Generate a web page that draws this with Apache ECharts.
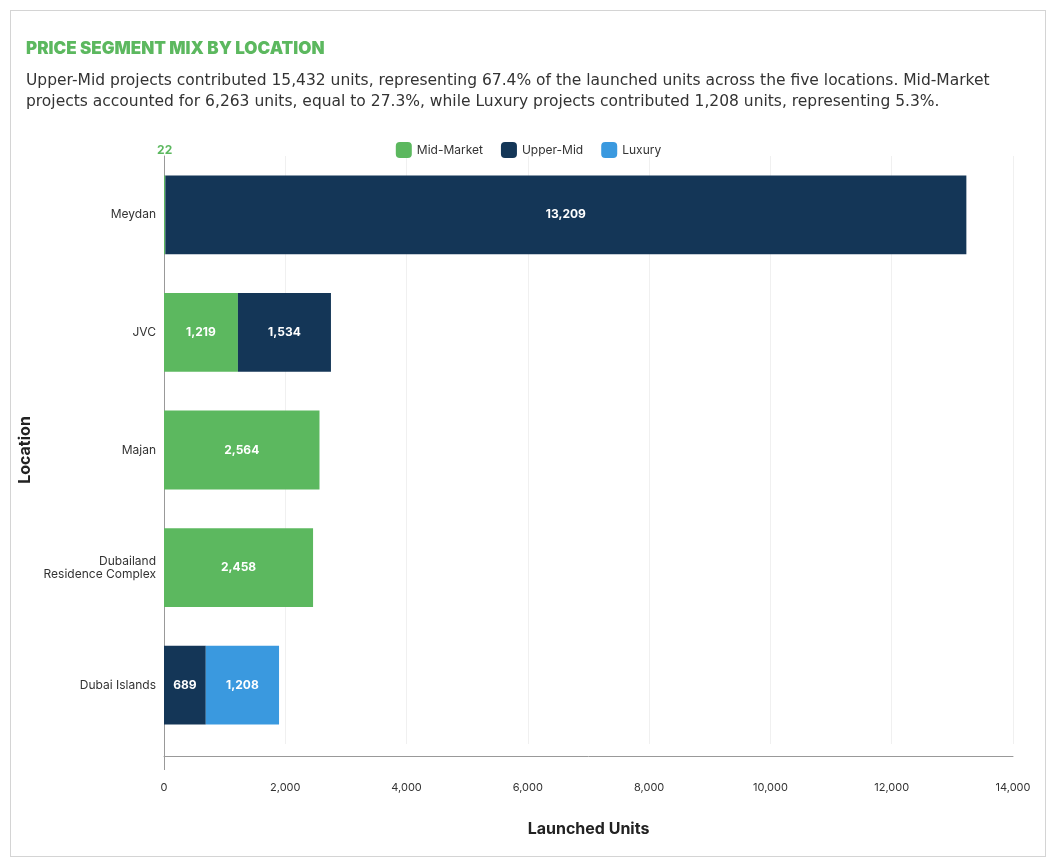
<!DOCTYPE html>
<html><head><meta charset="utf-8">
<script src="https://cdn.jsdelivr.net/npm/echarts@6/dist/echarts.min.js"></script>
<style>
html,body{margin:0;padding:0;background:#fff;font-family:Inter,sans-serif}
#box{position:absolute;left:10px;top:10px;width:1036px;height:847px;border:1px solid #d4d4d4;box-sizing:border-box}
#main{position:absolute;left:0;top:0;width:1057px;height:863px}
</style></head>
<body><div id="box"></div><div id="main"></div>
<script>
var locations = ['Meydan', 'JVC', 'Majan', 'Dubailand\nResidence Complex', 'Dubai Islands'];
var midMarket = [22, 1219, 2564, 2458, 0];
var upperMid = [13209, 1534, 0, 0, 689];
var luxury = [0, 0, 0, 0, 1208];

var myChart = echarts.init(document.getElementById('main'));

function lbl(p) { return p.value > 0 ? p.value.toLocaleString('en-US') : ''; }

function makeData(arr, isMid) {
    return arr.map(function (v, i) {
        if (isMid && v > 0 && v < 200) {
            return {value: v, label: {position: 'top', offset: [0, -14], color: '#5cb85f', fontSize: 12, fontWeight: 'bold'}};
        }
        return v;
    });
}

var insideLabel = {show: true, position: 'inside', color: '#fff', fontWeight: 'bold', fontSize: 12, formatter: lbl};

var option = {
    textStyle: {fontFamily: 'Inter'},
    title: [{
        text: 'PRICE SEGMENT MIX BY LOCATION', left: 21, top: 35,
        textStyle: {color: '#5cb85f', fontSize: 17, fontWeight: 900}
    }, {
        text: 'Upper-Mid projects contributed 15,432 units, representing 67.4% of the launched units across the five locations. Mid-Market\nprojects accounted for 6,263 units, equal to 27.3%, while Luxury projects contributed 1,208 units, representing 5.3%.',
        left: 21, top: 65,
        textStyle: {color: '#333', fontSize: 15.5, fontFamily: 'DejaVu Sans', fontWeight: 'normal', lineHeight: 21}
    }],
    legend: {
        top: 137, left: 'center', itemWidth: 16, itemHeight: 16, itemGap: 18,
        textStyle: {fontSize: 12, color: '#333'},
        data: ['Mid-Market', 'Upper-Mid', 'Luxury']
    },
    graphic: [{
        type: 'line', shape: {x1: 164.5, y1: 744, x2: 164.5, y2: 770},
        style: {stroke: '#999', lineWidth: 1}
    }],
    grid: {left: 164, right: 44, top: 156, bottom: 119, outerBoundsMode: 'none', containLabel: false},
    xAxis: {
        type: 'value', min: 0, max: 14000, interval: 2000, offset: 12,
        name: 'Launched Units', nameLocation: 'middle', nameGap: 65,
        nameTextStyle: {fontSize: 16, fontWeight: 'bold', color: '#222'},
        axisLine: {show: true, lineStyle: {color: '#999'}},
        axisTick: {show: false},
        axisLabel: {color: '#333', fontSize: 11, margin: 26,
            formatter: function (v) { return v.toLocaleString('en-US'); }},
        splitLine: {show: true, lineStyle: {color: '#f0f0f0'}}
    },
    yAxis: {
        type: 'category', inverse: true, data: locations,
        name: 'Location', nameLocation: 'middle', nameGap: 131, nameMoveOverlap: false,
        nameTextStyle: {fontSize: 16, fontWeight: 'bold', color: '#222'},
        axisLine: {show: true, lineStyle: {color: '#999'}},
        axisTick: {show: false},
        axisLabel: {color: '#333', fontSize: 12, margin: 8, lineHeight: 13}
    },
    series: [
        {name: 'Mid-Market', type: 'bar', stack: 's', barWidth: '67%', itemStyle: {color: '#5cb85f'}, label: insideLabel, data: makeData(midMarket, true)},
        {name: 'Upper-Mid', type: 'bar', stack: 's', itemStyle: {color: '#143657'}, label: insideLabel, data: upperMid},
        {name: 'Luxury', type: 'bar', stack: 's', itemStyle: {color: '#3a99df'}, label: insideLabel, data: luxury}
    ]
};

myChart.setOption(option);
window.addEventListener('resize', function () { myChart.resize(); });
</script>
</body></html>
